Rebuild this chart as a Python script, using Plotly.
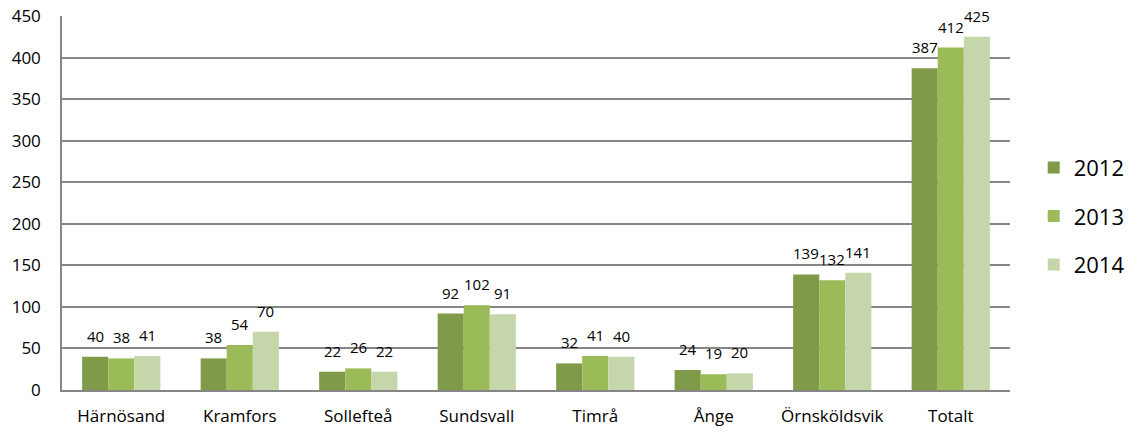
import plotly.graph_objects as go

categories = ["Härnösand", "Kramfors", "Sollefteå", "Sundsvall", "Timrå", "Ånge", "Örnsköldsvik", "Totalt"]
v2012 = [40, 38, 22, 92, 32, 24, 139, 387]
v2013 = [38, 54, 26, 102, 41, 19, 132, 412]
v2014 = [41, 70, 22, 91, 40, 20, 141, 425]
series_names = ["2012", "2013", "2014"]
colors = ["#7F9A48", "#9BBB59", "#C5D6AA"]

W, H = 1138, 444
ML, MR, MT, MB = 62, 128, 16, 54
BARGAP = 0.34
FONT = "Open Sans, Carlito, sans-serif"

fig = go.Figure()
for name, vals, col in zip(series_names, [v2012, v2013, v2014], colors):
    fig.add_trace(go.Bar(
        x=categories, y=vals, name=name, legendgroup=name,
        marker=dict(color=col, line=dict(width=0)),
    ))

plot_w = W - ML - MR
bar_px = plot_w / len(categories) * (1 - BARGAP) / 3
annotations = []
for i, vals in enumerate([v2012, v2013, v2014]):
    for c, v in zip(categories, vals):
        annotations.append(dict(
            x=c, y=v, xref="x", yref="y", text=str(v), showarrow=False,
            xshift=(i - 1) * bar_px, yshift=21, yanchor="middle",
            font=dict(family=FONT, size=15, color="#000000"),
        ))

fig.update_layout(
    width=W, height=H,
    margin=dict(l=ML, r=MR, t=MT, b=MB, autoexpand=False),
    plot_bgcolor="white", paper_bgcolor="white",
    barmode="group", bargap=BARGAP, bargroupgap=0,
    font=dict(family=FONT, size=17, color="#000000"),
    annotations=annotations,
    legend=dict(x=1.025, y=0.465, yanchor="middle", xanchor="left",
                font=dict(size=22), tracegroupgap=17, traceorder="grouped"),
    xaxis=dict(showline=True, linecolor="#868686", linewidth=1.5, ticks="",
               tickfont=dict(size=17), showgrid=False, ticklabelstandoff=10),
    yaxis=dict(range=[0, 450], dtick=50, showline=True, linecolor="#868686", linewidth=1.5,
               gridcolor="#868686", gridwidth=1.5, ticks="", tickfont=dict(size=17),
               zeroline=False, ticklabelstandoff=16),
)
fig.write_html("out.html", config={"displayModeBar": False},
               post_script="document.body.style.margin='0';")
